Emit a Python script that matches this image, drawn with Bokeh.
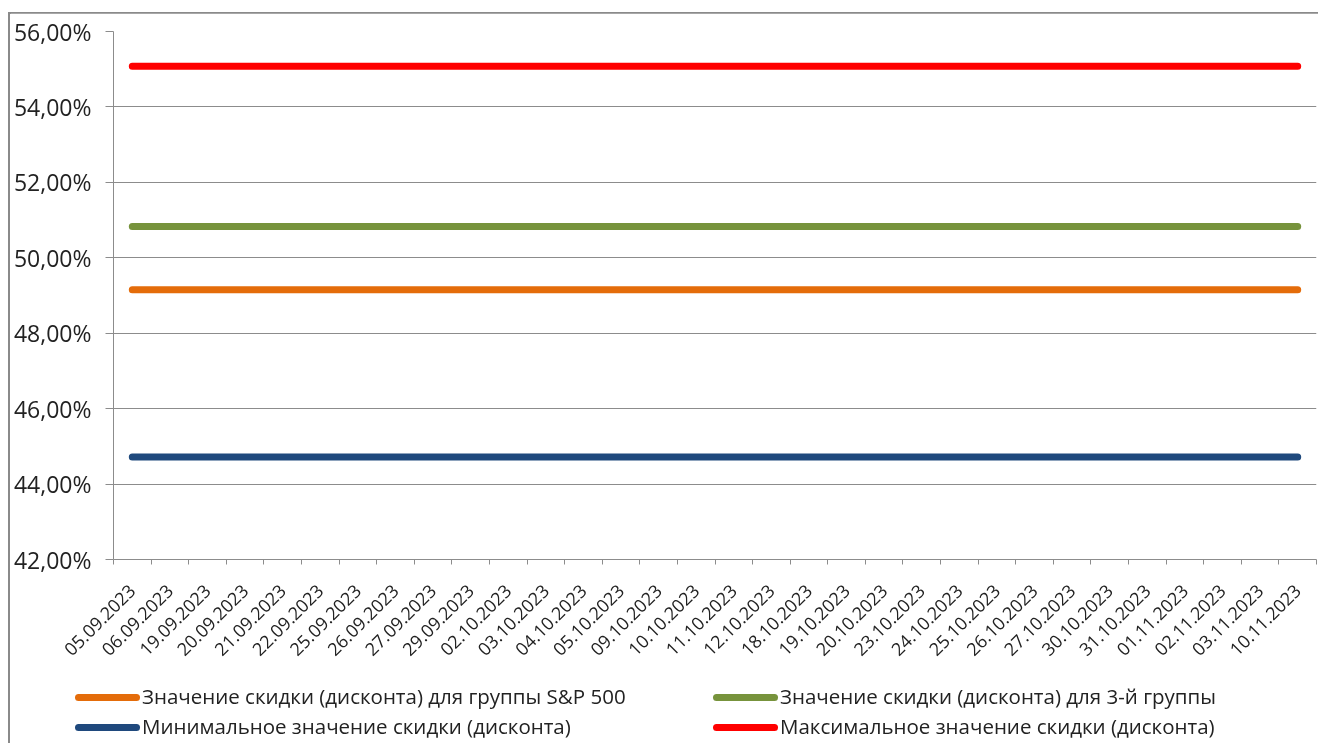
from bokeh.plotting import figure
from bokeh.models import Range1d, FixedTicker, Div
from bokeh.layouts import column, row
from bokeh.embed import file_html
from bokeh.resources import INLINE

dates = ["05.09.2023", "06.09.2023", "19.09.2023", "20.09.2023", "21.09.2023", "22.09.2023",
         "25.09.2023", "26.09.2023", "27.09.2023", "29.09.2023", "02.10.2023", "03.10.2023",
         "04.10.2023", "05.10.2023", "09.10.2023", "10.10.2023", "11.10.2023", "12.10.2023",
         "18.10.2023", "19.10.2023", "20.10.2023", "23.10.2023", "24.10.2023", "25.10.2023",
         "26.10.2023", "27.10.2023", "30.10.2023", "31.10.2023", "01.11.2023", "02.11.2023",
         "03.11.2023", "10.11.2023"]
n = len(dates)
sp500 = [49.15] * n
group3 = [50.83] * n
min_disc = [44.72] * n
max_disc = [55.08] * n

y_ticks = [42, 44, 46, 48, 50, 52, 54, 56]
y_tick_labels = ["42,00%", "44,00%", "46,00%", "48,00%", "50,00%", "52,00%", "54,00%", "56,00%"]

series_names = ["Значение скидки (дисконта) для группы S&P 500",
                "Значение скидки (дисконта) для 3-й группы",
                "Минимальное значение скидки (дисконта)",
                "Максимальное значение скидки (дисконта)"]
colors = ["#E46C0A", "#77933C", "#1F497D", "#FF0000"]

FONT = "Open Sans"
GRID = "#8C8C8C"
BORDER = "#8A8A8A"
TXT = "#222222"

p = figure(width=1308, height=651, x_range=Range1d(0, n), y_range=Range1d(42, 56),
           output_backend="svg", toolbar_location=None,
           min_border_left=103, min_border_right=2, min_border_top=18, min_border_bottom=93)
p.outline_line_color = None
p.background_fill_color = "white"
p.border_fill_color = "white"

xs = [i + 0.5 for i in range(n)]
for vals, c in zip([sp500, group3, min_disc, max_disc], colors):
    p.line(xs, vals, line_color=c, line_width=7, line_cap="round")

# x axis
p.xaxis.ticker = FixedTicker(ticks=xs, minor_ticks=list(range(n + 1)))
p.xaxis.major_label_overrides = {x: d for x, d in zip(xs, dates)}
p.xaxis.major_label_orientation = 0.785398
p.xaxis.major_tick_line_color = None
p.xaxis.minor_tick_line_color = GRID
p.xaxis.minor_tick_out = 5
p.xaxis.minor_tick_in = 0
p.xaxis.axis_line_color = GRID
p.xaxis.major_label_text_font = FONT
p.xaxis.major_label_text_font_size = "18px"
p.xaxis.major_label_text_color = TXT
p.xaxis.major_label_standoff = 22

# y axis
p.yaxis.ticker = FixedTicker(ticks=y_ticks)
p.yaxis.major_label_overrides = {t: l for t, l in zip(y_ticks, y_tick_labels)}
p.yaxis.major_tick_line_color = GRID
p.yaxis.major_tick_out = 8
p.yaxis.major_tick_in = 0
p.yaxis.minor_tick_line_color = None
p.yaxis.axis_line_color = GRID
p.yaxis.major_label_text_font = FONT
p.yaxis.major_label_text_font_size = "23px"
p.yaxis.major_label_text_color = TXT
p.yaxis.major_label_standoff = 14

p.xgrid.grid_line_color = None
p.ygrid.grid_line_color = GRID
p.ygrid.ticker = FixedTicker(ticks=y_ticks)

# legend (HTML, 2 x 2 grid) built from the series names / colours
col_left = [65, 703]
row_top = [19, 49]
items_html = ""
for k, (name, c) in enumerate(zip(series_names, colors)):
    left = col_left[k % 2]
    top = row_top[k // 2]
    items_html += (
        f'<div style="position:absolute;left:{left}px;top:{top}px;height:28px;'
        f'display:flex;align-items:center;white-space:nowrap;">'
        f'<span style="display:inline-block;width:65px;height:7px;border-radius:4px;'
        f'background:{c};margin-right:2px;"></span>{name}</div>'
    )
legend_div = Div(width=1308, height=79, margin=0,
                 text=f'<div style="position:relative;width:1308px;height:79px;'
                      f'font-family:\'{FONT}\';font-size:20.5px;color:{TXT};">{items_html}</div>')


def bar(w, h, color):
    return Div(width=w, height=h, margin=0,
               text=f'<div style="width:{w}px;height:{h}px;background:{color};"></div>')


top_gap = Div(width=1318, height=13, margin=0,
              text=f'<div style="position:fixed;left:8px;top:12px;width:1310px;height:2px;'
                   f'background:{BORDER};"></div>')
left_gap = bar(8, 730, "white")
left_border = bar(2, 730, BORDER)
layout = column(top_gap,
                row(left_gap, left_border, column(p, legend_div, spacing=0), spacing=0),
                spacing=0)

open("out.html", "w").write(file_html(layout, INLINE))
